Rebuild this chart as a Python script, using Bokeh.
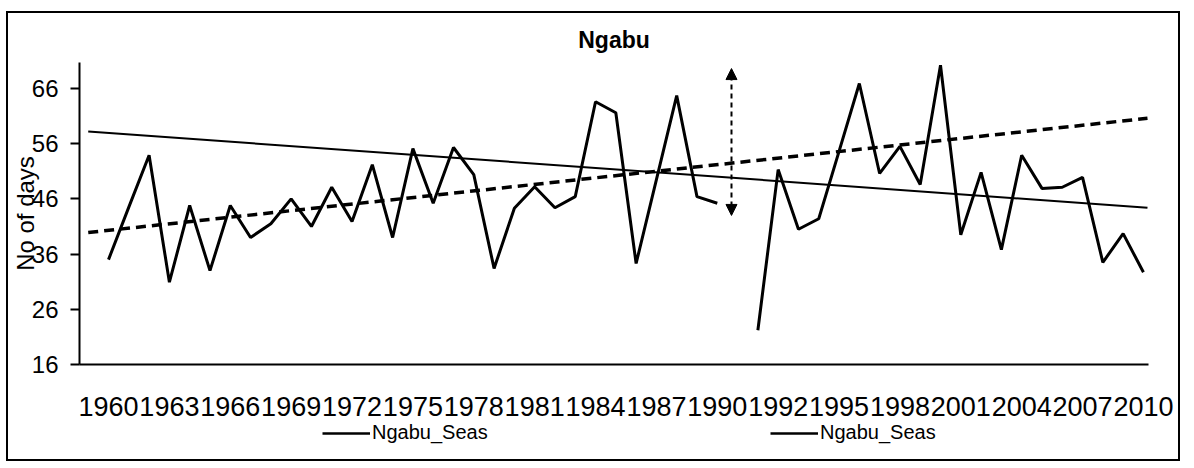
import numpy as np
from bokeh.plotting import figure
from bokeh.layouts import column
from bokeh.models import (FixedTicker, Range1d, Legend, LegendItem, Arrow,
                          NormalHead)
from bokeh.embed import file_html
from bokeh.resources import INLINE

# ---- data ----
tick_pos = [0, 3, 6, 9, 12, 15, 18, 21, 24, 27, 30, 33, 36, 39, 42, 45, 48, 51]
tick_labels = ["1960", "1963", "1966", "1969", "1972", "1975", "1978", "1981",
               "1984", "1987", "1990", "1992", "1995", "1998", "2001", "2004",
               "2007", "2010"]

# first segment: category index 0..30 (1960-1990)
seas_a_idx = list(range(0, 31))
seas_a = [35.0, 44.5, 53.9, 30.9, 44.8, 33.0, 44.8, 39.0, 41.5, 46.0,
          41.0, 48.1, 41.9, 52.2, 39.0, 55.1, 45.2, 55.3, 50.4, 33.4,
          44.3, 48.2, 44.4, 46.4, 63.6, 61.6, 34.3, 49.5, 64.7, 46.4,
          45.2]

# second segment: category index 32..51
seas_b_idx = list(range(32, 52))
seas_b = [22.2, 51.3, 40.5, 42.4, 54.6, 66.9, 50.6, 55.5, 48.6, 70.2,
          39.5, 50.8, 36.8, 53.9, 47.9, 48.1, 49.9, 34.5, 39.7, 32.7]

# trend lines (end points)
trend_idx = [-1.0, 51.2]
trend_solid = [58.2, 44.4]
trend_dash = [39.9, 60.6]

# break marker (double arrow)
break_idx = 30.7
break_lo, break_hi = 43.0, 69.6

legend_labels = ["Ngabu_Seas", "Ngabu_Seas"]

FONT = "Liberation Sans"
W = 1170

p = figure(width=W, height=408, output_backend="svg", toolbar_location=None,
           x_range=Range1d(-1.43, 51.25), y_range=Range1d(16, 70.7),
           min_border_left=67, min_border_top=49, min_border_right=30,
           min_border_bottom=57)
p.background_fill_color = "white"
p.border_fill_color = "white"
p.outline_line_color = None
p.grid.grid_line_color = None

p.title.text = "Ngabu"
p.title.align = "center"
p.title.text_font = FONT
p.title.text_font_size = "23px"
p.title.text_font_style = "bold"
p.title.text_color = "black"
p.title.standoff = 20

# axes
p.xaxis.ticker = FixedTicker(ticks=tick_pos)
p.xaxis.major_label_overrides = {t: l for t, l in zip(tick_pos, tick_labels)}
p.xaxis.major_label_text_font = FONT
p.xaxis.major_label_text_font_size = "27px"
p.xaxis.major_label_text_color = "black"
p.xaxis.major_label_standoff = 26
p.xaxis.major_tick_line_color = None
p.xaxis.minor_tick_line_color = None
p.xaxis.axis_line_color = "black"
p.xaxis.axis_line_width = 2

p.yaxis.ticker = FixedTicker(ticks=[16, 26, 36, 46, 56, 66])
p.yaxis.major_label_text_font = FONT
p.yaxis.major_label_text_font_size = "24px"
p.yaxis.major_label_text_color = "black"
p.yaxis.major_tick_out = 9
p.yaxis.major_tick_in = 0
p.yaxis.major_tick_line_width = 2
p.yaxis.minor_tick_line_color = None
p.yaxis.major_label_standoff = 12
p.yaxis.axis_line_color = "black"
p.yaxis.axis_line_width = 2
p.yaxis.axis_label = "No of days"
p.yaxis.axis_label_text_font = FONT
p.yaxis.axis_label_text_font_size = "24px"
p.yaxis.axis_label_text_font_style = "normal"
p.yaxis.axis_label_text_color = "black"
p.yaxis.axis_label_standoff = -10

# trend lines
p.line(trend_idx, trend_solid, line_color="black", line_width=2)
p.line(trend_idx, trend_dash, line_color="black", line_width=3.5, line_dash="10 6")

# series
p.line(seas_a_idx, seas_a, line_color="black", line_width=3)
p.line(seas_b_idx, seas_b, line_color="black", line_width=3)

# break arrow
p.add_layout(Arrow(x_start=break_idx, y_start=break_lo, x_end=break_idx, y_end=break_hi,
                   line_dash="5 4", line_width=2, line_color="black",
                   start=NormalHead(size=11, fill_color="black", line_color="black"),
                   end=NormalHead(size=11, fill_color="black", line_color="black")))

# legend strip (separate small figure below the chart)
pl = figure(width=W, height=38, output_backend="svg", toolbar_location=None,
            x_range=Range1d(0, 1), y_range=Range1d(0, 1),
            min_border_left=0, min_border_right=0, min_border_top=0,
            min_border_bottom=0)
pl.axis.visible = False
pl.grid.grid_line_color = None
pl.outline_line_color = None
la = pl.line(x=[-5, -4], y=[-5, -5], line_color="black", line_width=2.5)
lb = pl.line(x=[-5, -4], y=[-5, -5], line_color="black", line_width=2.5)
legend = Legend(items=[LegendItem(label=legend_labels[0], renderers=[la]),
                       LegendItem(label=legend_labels[1], renderers=[lb])],
                orientation="horizontal", location=(243, 15),
                label_text_font=FONT, label_text_font_size="20px",
                label_text_color="black",
                glyph_width=48, glyph_height=20, label_standoff=2, spacing=0,
                label_width=398, border_line_color=None,
                background_fill_alpha=0, padding=0, margin=0)
pl.add_layout(legend)

layout = column(p, pl, spacing=0)
layout.styles = {"border": "2px solid black", "margin-top": "11px",
                 "margin-left": "6px"}

open("out.html", "w").write(file_html(layout, INLINE))
